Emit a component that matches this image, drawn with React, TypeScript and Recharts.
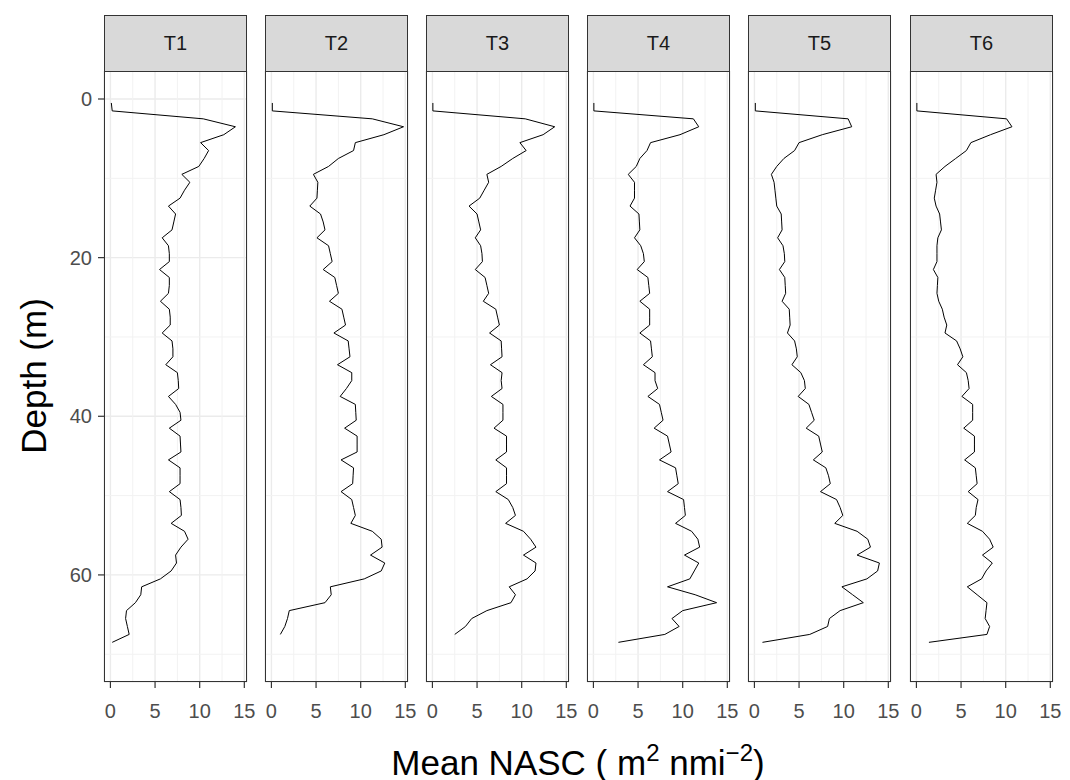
import React from 'react';
import { LineChart, Line, XAxis, YAxis, CartesianGrid, ReferenceLine } from 'recharts';

const transects = ['T1', 'T2', 'T3', 'T4', 'T5', 'T6'];

const depthLong = [
  0.5, 1.5, 2.5, 3.5, 4.5, 5.5, 6.5, 7.5, 8.5, 9.5, 10.5, 11.5, 12.5, 13.5, 14.5, 15.5, 16.5, 17.5, 18.5, 19.5,
  20.5, 21.5, 22.5, 23.5, 24.5, 25.5, 26.5, 27.5, 28.5, 29.5, 30.5, 31.5, 32.5, 33.5, 34.5, 35.5, 36.5, 37.5, 38.5, 39.5,
  40.5, 41.5, 42.5, 43.5, 44.5, 45.5, 46.5, 47.5, 48.5, 49.5, 50.5, 51.5, 52.5, 53.5, 54.5, 55.5, 56.5, 57.5, 58.5, 59.5,
  60.5, 61.5, 62.5, 63.5, 64.5, 65.5, 66.5, 67.5, 68.5,
];
const depthShort = [
  0.5, 1.5, 2.5, 3.5, 4.5, 5.5, 6.5, 7.5, 8.5, 9.5, 10.5, 11.5, 12.5, 13.5, 14.5, 15.5, 16.5, 17.5, 18.5, 19.5,
  20.5, 21.5, 22.5, 23.5, 24.5, 25.5, 26.5, 27.5, 28.5, 29.5, 30.5, 31.5, 32.5, 33.5, 34.5, 35.5, 36.5, 37.5, 38.5, 39.5,
  40.5, 41.5, 42.5, 43.5, 44.5, 45.5, 46.5, 47.5, 48.5, 49.5, 50.5, 51.5, 52.5, 53.5, 54.5, 55.5, 56.5, 57.5, 58.5, 59.5,
  60.5, 61.5, 62.5, 63.5, 64.5, 65.5, 66.5, 67.5,
];

const nascT1 = [
  0.1, 0.2, 10.4, 14.0, 12.7, 10.1, 11.0, 10.5, 9.9, 8.0, 8.9, 8.3, 7.8, 6.5, 7.3, 7.1, 6.9, 5.8, 6.5, 6.6,
  6.6, 5.5, 6.6, 6.6, 6.5, 5.6, 6.6, 6.7, 6.7, 5.8, 6.9, 7.0, 7.0, 6.2, 7.5,
  7.6, 7.65, 6.5, 7.3, 7.8, 7.9, 6.6, 7.8, 7.85, 7.9, 6.5, 7.8, 7.8, 7.8, 6.6, 7.8, 7.9, 7.95, 6.8, 8.3,
  8.7, 7.9, 7.3, 7.4, 6.8, 5.6, 3.5, 3.4, 2.8, 1.8, 1.7, 1.9, 2.1, 0.2,
];
const nascT2 = [
  0.1, 0.1, 11.3, 14.8, 12.6, 9.4, 9.2, 7.5, 6.4, 4.7, 5.2, 5.15, 5.1, 4.3, 5.5, 5.8, 6.0, 5.1, 6.4, 6.6,
  6.8, 5.8, 7.1, 7.3, 7.5, 6.5, 7.9, 8.1, 8.3, 7.0, 8.6, 8.7, 8.8, 7.4, 9.0,
  9.0, 8.4, 7.7, 9.4, 9.45, 9.5, 8.2, 9.6, 9.6, 9.6, 7.8, 9.2, 9.15, 9.1, 7.8, 9.0, 9.2, 9.4, 8.9, 11.3,
  12.3, 12.4, 11.1, 12.7, 12.3, 10.4, 6.6, 6.7, 6.0, 2.0, 1.8, 1.5, 1.0,
];
const nascT3 = [
  0.05, 0.05, 10.4, 13.7, 12.4, 9.8, 10.5, 9.0, 7.7, 6.1, 6.3, 5.8, 5.3, 4.1, 5.0, 5.2, 5.4, 4.8, 5.4, 5.55,
  5.6, 4.8, 5.9, 6.1, 6.3, 5.7, 7.1, 7.3, 7.5, 6.4, 7.7, 7.75, 7.8, 6.5, 7.8,
  7.7, 7.8, 6.6, 7.9, 7.9, 7.9, 6.9, 8.3, 8.3, 8.3, 7.1, 8.3, 8.3, 8.3, 7.1, 8.5, 9.0, 9.3, 8.2, 10.2,
  11.0, 11.6, 10.2, 11.6, 11.5, 10.6, 8.6, 9.3, 8.8, 6.1, 4.4, 3.7, 2.5,
];
const nascT4 = [
  0.05, 0.05, 11.2, 11.8, 9.7, 6.4, 6.0, 5.2, 4.8, 3.9, 4.6, 4.6, 4.6, 4.1, 5.1, 5.15, 5.2, 4.6, 5.3, 5.6,
  5.7, 4.9, 6.1, 6.2, 6.3, 5.2, 6.3, 6.3, 6.3, 5.2, 6.4, 6.5, 6.6, 5.6, 6.9,
  6.9, 7.2, 6.1, 7.4, 7.6, 7.8, 6.8, 8.3, 8.5, 8.7, 7.4, 9.2, 9.35, 9.5, 8.3, 10.1, 10.2, 10.3, 9.2, 11.0,
  11.7, 11.9, 10.2, 11.8, 11.3, 10.8, 8.3, 11.4, 13.8, 10.0, 8.8, 9.6, 8.0, 2.8,
];
const nascT5 = [
  0.1, 0.1, 10.5, 10.9, 7.6, 5.0, 4.5, 3.3, 2.5, 1.9, 2.2, 2.3, 2.4, 2.5, 3.0, 3.05, 3.1, 2.6, 3.2, 3.35,
  3.4, 2.8, 3.4, 3.45, 3.5, 3.1, 3.9, 3.95, 4.0, 3.7, 4.5, 4.7, 4.8, 4.2, 5.2,
  5.6, 5.7, 4.9, 6.1, 6.4, 6.7, 5.8, 7.2, 7.4, 7.6, 6.6, 8.0, 8.3, 8.5, 7.4, 9.2, 9.6, 9.9, 9.0, 11.5,
  12.7, 13.0, 11.5, 14.0, 13.8, 12.6, 9.8, 11.0, 12.2, 9.6, 8.4, 8.2, 6.2, 0.9,
];
const nascT6 = [
  0.05, 0.05, 10.1, 10.7, 8.3, 6.1, 5.6, 4.4, 3.2, 2.2, 2.3, 2.15, 2.0, 2.2, 2.6, 2.7, 2.8, 2.4, 2.3, 2.3,
  2.3, 1.9, 2.4, 2.35, 2.3, 2.5, 2.9, 3.1, 3.4, 3.2, 4.5, 4.9, 5.2, 4.6, 5.6,
  5.8, 5.9, 5.1, 6.3, 6.3, 6.3, 5.3, 6.5, 6.5, 6.5, 5.4, 6.6, 6.7, 6.8, 5.8, 6.9, 6.7, 6.6, 5.7, 7.4,
  8.2, 8.6, 7.4, 8.5, 7.8, 7.3, 5.7, 6.8, 7.9, 7.8, 7.7, 8.2, 7.9, 1.4,
];

const seriesList = [nascT1, nascT2, nascT3, nascT4, nascT5, nascT6];
const depthList = [depthLong, depthShort, depthShort, depthLong, depthLong, depthLong];

const xTicks = [0, 5, 10, 15];
const yTicks = [0, 20, 40, 60];
const xMinor = [2.5, 7.5, 12.5];
const yMinor = [10, 30, 50, 70];

const X_DOMAIN: [number, number] = [-0.72, 15.3];
const Y_DOMAIN: [number, number] = [-3.53, 73.5];

const FONT = '"Liberation Sans", Arial, Helvetica, sans-serif';
const PANEL_LEFTS = [104, 265, 426, 587, 748, 910];
const PANEL_TOP = 71;
const PANEL_W = 143;
const PANEL_H = 611;
const YAXIS_W = 60;
const RIGHT_PAD = 16;
const XAXIS_H = 50;
const STRIP_TOP = 15;
const TICK_FS = 20;

function Panel({ idx }: { idx: number }) {
  const depths = depthList[idx];
  const vals = seriesList[idx];
  const rows = depths.map((d, i) => ({ depth: d, nasc: vals[i] }));
  const showY = idx === 0;
  const left = PANEL_LEFTS[idx];
  return (
    <>
      <div
        style={{
          position: 'absolute',
          left: left - YAXIS_W,
          top: PANEL_TOP,
          width: YAXIS_W + PANEL_W + RIGHT_PAD,
          height: PANEL_H + XAXIS_H,
        }}
      >
        <LineChart
          width={YAXIS_W + PANEL_W + RIGHT_PAD}
          height={PANEL_H + XAXIS_H}
          data={rows}
          layout="vertical"
          margin={{ top: 0, right: RIGHT_PAD, bottom: 0, left: 0 }}
        >
          {xMinor.map((v) => (
            <ReferenceLine key={'xm' + v} x={v} stroke="#F2F2F2" strokeWidth={1} />
          ))}
          {yMinor.map((v) => (
            <ReferenceLine key={'ym' + v} y={v} stroke="#F2F2F2" strokeWidth={1} />
          ))}
          <CartesianGrid stroke="#EBEBEB" strokeWidth={1.4} />
          <XAxis
            type="number"
            domain={X_DOMAIN}
            allowDataOverflow
            ticks={xTicks}
            interval={0}
            height={XAXIS_H}
            axisLine={false}
            tickLine={{ stroke: '#333333', strokeWidth: 1.2 }}
            tickSize={6}
            tickMargin={16}
            tick={{ fill: '#4D4D4D', fontSize: TICK_FS, fontFamily: FONT }}
          />
          <YAxis
            type="number"
            dataKey="depth"
            domain={Y_DOMAIN}
            allowDataOverflow
            ticks={yTicks}
            interval={0}
            width={YAXIS_W}
            axisLine={false}
            tickLine={showY ? { stroke: '#333333', strokeWidth: 1.2 } : false}
            tickSize={6}
            tickMargin={6}
            tick={showY ? { fill: '#4D4D4D', fontSize: TICK_FS, fontFamily: FONT } : false}
          />
          <Line
            type="linear"
            dataKey="nasc"
            stroke="#000000"
            strokeWidth={1}
            dot={false}
            activeDot={false}
            isAnimationActive={false}
          />
        </LineChart>
      </div>
      <div
        style={{
          position: 'absolute',
          left,
          top: PANEL_TOP,
          width: PANEL_W,
          height: PANEL_H,
          border: '1.3px solid #333333',
          boxSizing: 'border-box',
          pointerEvents: 'none',
        }}
      />
      <div
        style={{
          position: 'absolute',
          left,
          top: STRIP_TOP,
          width: PANEL_W,
          height: PANEL_TOP - STRIP_TOP + 1,
          background: '#D9D9D9',
          border: '1.3px solid #333333',
          boxSizing: 'border-box',
          display: 'flex',
          alignItems: 'center',
          justifyContent: 'center',
          fontFamily: FONT,
          fontSize: 20,
          color: '#1A1A1A',
        }}
      >
        {transects[idx]}
      </div>
    </>
  );
}

export default function App() {
  return (
    <div
      style={{
        position: 'absolute',
        left: 0,
        top: 0,
        width: 1070,
        height: 780,
        background: '#FFFFFF',
        overflow: 'hidden',
        fontFamily: FONT,
      }}
    >
      {transects.map((t, i) => (
        <Panel key={t} idx={i} />
      ))}
      <svg
        width={1070}
        height={780}
        style={{ position: 'absolute', left: 0, top: 0, pointerEvents: 'none' }}
      >
        <text
          x={33}
          y={376}
          transform="rotate(-90 33 376)"
          textAnchor="middle"
          dominantBaseline="central"
          fontFamily={FONT}
          fontSize={35}
          fill="#000000"
        >
          Depth (m)
        </text>
        <text x={578} y={775} textAnchor="middle" fontFamily={FONT} fontSize={35} fill="#000000">
          Mean NASC ( m
          <tspan dy={-14} fontSize={24}>2</tspan>
          <tspan dy={14}> nmi</tspan>
          <tspan dy={-14} fontSize={24}>−2</tspan>
          <tspan dy={14}>)</tspan>
        </text>
      </svg>
    </div>
  );
}
